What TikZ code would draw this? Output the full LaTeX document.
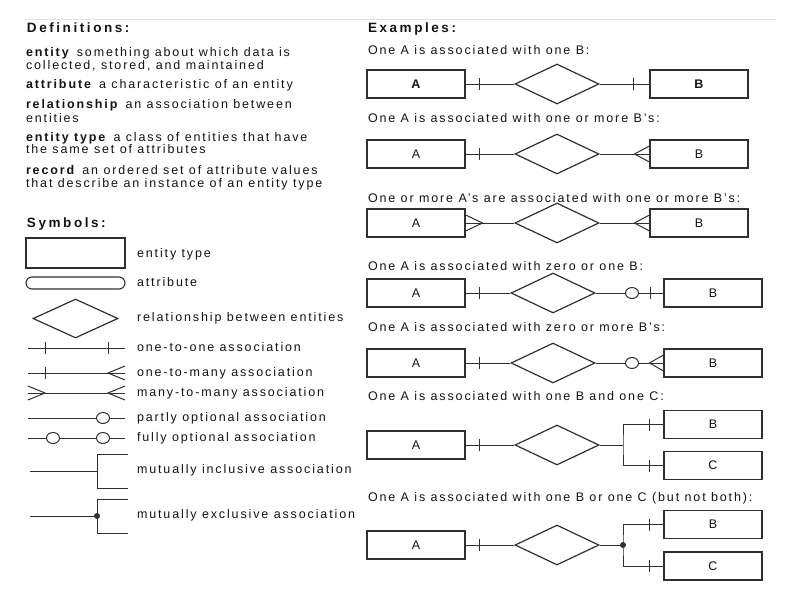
\documentclass[tikz,border=0pt]{standalone}
\usepackage{fontspec}
\setmainfont{Liberation Sans}[LetterSpace=15]
\newfontfamily\hdfont{Liberation Sans}[LetterSpace=19]
\usetikzlibrary{shapes.geometric}
\definecolor{ink}{HTML}{141414}
\definecolor{ln}{HTML}{303030}
\definecolor{rulec}{HTML}{E2E2E2}
\begin{document}
\begin{tikzpicture}[x=1pt,y=-1pt,
  txt/.style={anchor=base west, inner sep=0pt, outer sep=0pt, text=ink, font=\fontsize{12.5}{13}\selectfont},
  hd/.style={txt, font=\hdfont\fontsize{13.5}{15}\selectfont\bfseries},
  ent/.style={draw=ln, line width=1.1pt, rectangle, minimum width=98pt, minimum height=28pt, inner sep=0pt, text=ink, font=\fontsize{12.5}{13}\selectfont},
  entb/.style={ent, font=\fontsize{12.5}{13}\selectfont\bfseries},
  rel/.style={draw=ln, line width=1.2pt, diamond, aspect=2.1, minimum width=84pt, minimum height=40pt, inner sep=0pt},
  cn/.style={draw=ln, line width=1pt},
  optc/.style={draw=ln, line width=1pt, fill=white, ellipse, minimum width=13pt, minimum height=11pt, inner sep=0pt},
  jdot/.style={fill=ln, circle, minimum size=6pt, inner sep=0pt}]
\useasboundingbox[fill=white] (0,0) rectangle (800,600);
\draw[rulec, line width=0.8pt] (25,19) -- (775,19);

% ---------- Definitions ----------
\node[hd] (hdef) at (27,32) {Definitions:};
\node[txt] (d1a) at (26,56) {\textbf{entity}\enspace something about which data is};
\node[txt] (d1b) at (26,69) {collected, stored, and maintained};
\node[txt] (d2a) at (26,88) {\textbf{attribute}\enspace a characteristic of an entity};
\node[txt] (d3a) at (26,108) {\textbf{relationship}\enspace an association between};
\node[txt] (d3b) at (26,122) {entities};
\node[txt] (d4a) at (26,141) {\textbf{entity type}\enspace a class of entities that have};
\node[txt] (d4b) at (26,153) {the same set of attributes};
\node[txt] (d5a) at (26,174) {\textbf{record}\enspace an ordered set of attribute values};
\node[txt] (d5b) at (26,187) {that describe an instance of an entity type};

% ---------- Symbols ----------
\node[hd] (hsym) at (27,227) {Symbols:};
\node[draw=ln, line width=1.1pt, minimum width=99pt, minimum height=30pt, inner sep=0pt] (sEnt) at (75.5,253) {};
\node[draw=ln, line width=1.1pt, rounded corners=6pt, minimum width=99pt, minimum height=12pt, inner sep=0pt] (sAtt) at (75.5,283) {};
\node[rel, minimum width=85pt, minimum height=39pt] (sRel) at (75.5,318.5) {};
\node[txt] (t1) at (137,257) {entity type};
\node[txt] (t2) at (137,286.5) {attribute};
\node[txt] (t3) at (137,321) {relationship between entities};
\node[txt] (t4) at (137,351.5) {one-to-one association};
\node[txt] (t5) at (137,376) {one-to-many association};
\node[txt] (t6) at (137,396.5) {many-to-many association};
\node[txt] (t7) at (137,421) {partly optional association};
\node[txt] (t8) at (137,441.5) {fully optional association};
\node[txt] (t9) at (137,473.5) {mutually inclusive association};
\node[txt] (t10) at (137,518.5) {mutually exclusive association};
% one-to-one
\draw[cn] (28,348) -- (125,348);
\draw[cn] (45,342) -- (45,354) (108,342) -- (108,354);
% one-to-many
\draw[cn] (28,373) -- (125,373);
\draw[cn] (45,367) -- (45,379);
\draw[cn] (125,366) -- (108,373) -- (125,380);
% many-to-many
\draw[cn] (28,393) -- (125,393);
\draw[cn] (28,386) -- (45,393) -- (28,400);
\draw[cn] (125,386) -- (108,393) -- (125,400);
% partly optional
\draw[cn] (28,418) -- (125,418);
\node[optc] (so1) at (103,418) {};
% fully optional
\draw[cn] (28,438) -- (125,438);
\node[optc] (so2) at (53,438) {};
\node[optc] (so3) at (103,438) {};
% mutually inclusive
\draw[cn] (30,471) -- (97,471);
\draw[cn] (128,454) -- (97,454) -- (97,488) -- (128,488);
% mutually exclusive
\draw[cn] (30,516) -- (97,516);
\draw[cn] (128,499) -- (97,499) -- (97,533) -- (128,533);
\node[jdot] (sdot) at (97,516) {};

% ---------- Examples ----------
\node[hd] (hex) at (368,32) {Examples:};
\node[txt] (e1) at (368,54) {One A is associated with one B:};
\node[txt] (e2) at (368,122.5) {One A is associated with one or more B's:};
\node[txt] (e3) at (368,202) {One or more A's are associated with one or more B's:};
\node[txt] (e4) at (368,270.5) {One A is associated with zero or one B:};
\node[txt] (e5) at (368,331.5) {One A is associated with zero or more B's:};
\node[txt] (e6) at (368,400.5) {One A is associated with one B and one C:};
\node[txt] (e7) at (368,501.5) {One A is associated with one B or one C (but not both):};

% Row 1
\node[entb] (A1) at (416,84) {A};
\node[rel] (R1) at (557,84) {};
\node[entb] (B1) at (699,84) {B};
\draw[cn] (A1) -- (R1);
\draw[cn] (R1) -- (B1);
\draw[cn] ([xshift=14pt]A1.east) ++(0,-6) -- ++(0,12);
\draw[cn] ([xshift=-16pt]B1.west) ++(0,-6) -- ++(0,12);

% Row 2
\node[ent] (A2) at (416,154) {A};
\node[rel] (R2) at (557,154) {};
\node[ent] (B2) at (699,154) {B};
\draw[cn] (A2) -- (R2);
\draw[cn] (R2) -- (B2);
\draw[cn] ([xshift=14pt]A2.east) ++(0,-6) -- ++(0,12);
\draw[cn] ([yshift=8pt]B2.west) -- ([xshift=-15pt]B2.west) -- ([yshift=-8pt]B2.west);

% Row 3
\node[ent] (A3) at (416,223) {A};
\node[rel] (R3) at (557,223) {};
\node[ent] (B3) at (699,223) {B};
\draw[cn] (A3) -- (R3);
\draw[cn] (R3) -- (B3);
\draw[cn] ([yshift=8pt]A3.east) -- ([xshift=17pt]A3.east) -- ([yshift=-8pt]A3.east);
\draw[cn] ([yshift=8pt]B3.west) -- ([xshift=-15pt]B3.west) -- ([yshift=-8pt]B3.west);

% Row 4
\node[ent] (A4) at (416,293) {A};
\node[rel] (R4) at (553,293) {};
\node[ent] (B4) at (713,293) {B};
\node[optc] (O4) at (632,293) {};
\draw[cn] (A4) -- (R4);
\draw[cn] (R4) -- (O4);
\draw[cn] (O4) -- (B4);
\draw[cn] ([xshift=14pt]A4.east) ++(0,-6) -- ++(0,12);
\draw[cn] ([xshift=-13pt]B4.west) ++(0,-6) -- ++(0,12);

% Row 5
\node[ent] (A5) at (416,363) {A};
\node[rel] (R5) at (553,363) {};
\node[ent] (B5) at (713,363) {B};
\node[optc] (O5) at (632,363) {};
\draw[cn] (A5) -- (R5);
\draw[cn] (R5) -- (O5);
\draw[cn] (O5) -- (B5);
\draw[cn] ([xshift=14pt]A5.east) ++(0,-6) -- ++(0,12);
\draw[cn] ([yshift=8pt]B5.west) -- ([xshift=-14pt]B5.west) -- ([yshift=-8pt]B5.west);

% Row 6
\node[ent] (A6) at (416,445) {A};
\node[rel] (R6) at (557,445) {};
\node[ent] (B6) at (713,424.5) {B};
\node[ent] (C6) at (713,465.5) {C};
\coordinate (j6) at (623,445);
\draw[cn] (A6) -- (R6);
\draw[cn] (R6) -- (j6);
\draw[cn] (B6.west) -| (j6) |- (C6.west);
\draw[cn] ([xshift=14pt]A6.east) ++(0,-6) -- ++(0,12);
\draw[cn] ([xshift=-14pt]B6.west) ++(0,-6) -- ++(0,12);
\draw[cn] ([xshift=-14pt]C6.west) ++(0,-6) -- ++(0,12);

% Row 7
\node[ent] (A7) at (416,545) {A};
\node[rel] (R7) at (557,545) {};
\node[ent] (B7) at (713,524.5) {B};
\node[ent] (C7) at (713,566) {C};
\node[jdot] (j7) at (623,545) {};
\draw[cn] (A7) -- (R7);
\draw[cn] (R7) -- (j7.center);
\draw[cn] (B7.west) -| (j7.center) |- (C7.west);
\draw[cn] ([xshift=14pt]A7.east) ++(0,-6) -- ++(0,12);
\draw[cn] ([xshift=-14pt]B7.west) ++(0,-6) -- ++(0,12);
\draw[cn] ([xshift=-14pt]C7.west) ++(0,-6) -- ++(0,12);
\end{tikzpicture}
\end{document}
